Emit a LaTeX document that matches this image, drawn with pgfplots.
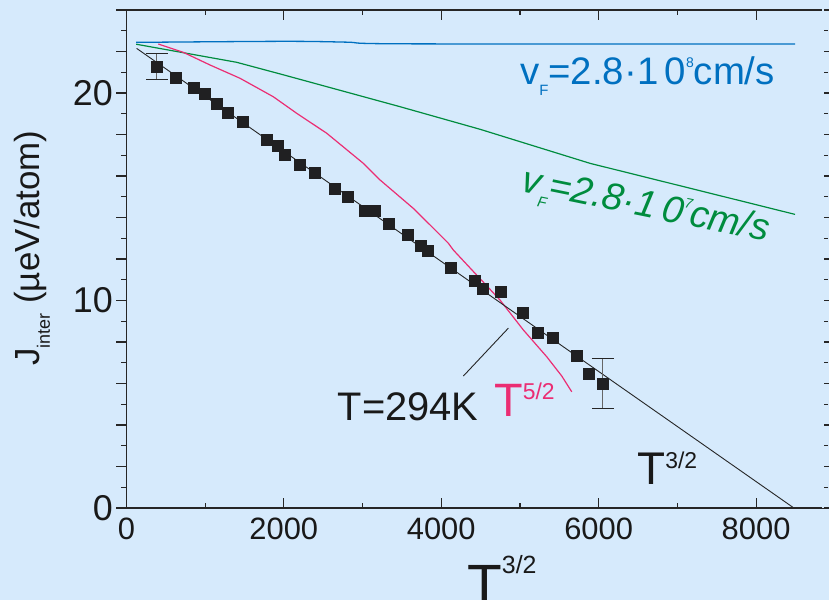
\documentclass[border=0pt]{standalone}
\usepackage{fontspec}
\setmainfont{Liberation Sans}
\usepackage{pgfplots}
\pgfplotsset{compat=1.18}
\definecolor{bgblue}{RGB}{214,234,252}
\definecolor{vblue}{RGB}{0,112,192}
\definecolor{vgreen}{RGB}{0,140,62}
\definecolor{tpink}{RGB}{235,45,115}
\definecolor{sqblack}{RGB}{32,32,34}
\begin{document}
\begin{tikzpicture}
\clip (0,0) rectangle (829bp,600bp);
\fill[bgblue] (0,0) rectangle (829bp,600bp);
\begin{axis}[at={(126.4bp,92bp)}, anchor=south west, scale only axis,
  width=696.6bp, height=498bp, clip=false,
  xmin=0, xmax=8850, ymin=0, ymax=24,
  xtick={0,2000,...,8000}, minor x tick num=1,
  ytick={0,2,...,24}, yticklabels={0,,,,,10,,,,,20,,}, minor y tick num=1,
  xtick align=inside, ytick align=outside,
  major tick length=10bp, minor tick length=5bp,
  axis line style={line width=1.3bp, black!85},
  every tick/.style={line width=1.2bp, black!85},
  x tick label style={font=\fontsize{31}{31}\selectfont, text=black!90, yshift=-6bp},
  y tick label style={font=\fontsize{36}{36}\selectfont, text=black!90},
  /pgf/number format/assume math mode=true,
  /pgf/number format/1000 sep={},
  ylabel={J\raisebox{-0.3em}{\fontsize{18}{18}\selectfont inter} (µeV/atom)},
  every axis y label/.style={at={(axis description cs:-0.1355,0.522)},
    rotate=90, anchor=center, font=\fontsize{35}{35}\selectfont, text=black!90}]

% v_F = 2.8e8
\addplot[vblue, line width=1.3bp, smooth] coordinates
  {(125,22.44) (2000,22.49) (2800,22.45) (3500,22.37) (8495,22.36)};
% v_F = 2.8e7
\addplot[vgreen, line width=1.2bp] coordinates
  {(125,22.35) (1400,21.48) (2000,20.87) (3476,19.34) (4494,18.25) (5890,16.61) (8495,14.15)};
% T^{5/2}
\addplot[tpink, line width=1.2bp] coordinates
  {(405,22.36) (723,21.96) (1062,21.35) (1443,20.71) (1866,19.82) (2164,19.02)
   (2545,18.06) (3010,16.61) (3222,15.81) (3645,14.44) (3858,13.64) (4090,12.76)
   (4154,12.43) (4747,10.02) (5043,8.58) (5340,7.29) (5531,6.36) (5658,5.6)};
% T^{3/2} fit
\addplot[black!85, line width=0.9bp] coordinates {(130,22.15) (8480,0)};
% annotation stroke
\addplot[black!85, line width=0.9bp] coordinates {(4281,6.36) (4853,8.67)};

% error bars
\addplot[forget plot, only marks, mark=none,
  error bars/.cd, y dir=both, y explicit,
  error bar style={line width=1.3bp, black!60},
  error mark options={rotate=90, mark size=11bp, line width=1.3bp, black!85}]
  coordinates {(385,21.27) +- (0,0.62) (6052,6.01) +- (0,1.2)};

% measured points
\addplot[only marks, mark=square*, mark size=5.5bp, sqblack] coordinates
  {(385,21.27) (630,20.76) (850,20.26) (990,19.97) (1142,19.5) (1291,19.07)
   (1482,18.62) (1783,17.77) (1926,17.46) (2006,17.01) (2197,16.55) (2392,16.18)
   (2651,15.37) (2807,15.0) (3023,14.31) (3150,14.31) (3328,13.72) (3574,13.16)
   (3740,12.63) (3828,12.39) (4124,11.6) (4430,10.94) (4527,10.55) (4760,10.44)
   (5040,9.41) (5230,8.43) (5421,8.23) (5726,7.36) (5869,6.46) (6052,6.01)};

% right frame line is not visible in the original, only its ticks
\draw[bgblue, line width=1.6bp] (rel axis cs:1,0) -- (rel axis cs:1,1.002);

\node[anchor=base west, inner sep=0, text=vblue, font=\fontsize{38.5}{38.5}\selectfont]
  at (axis cs:5001,20.43)
  {v\raisebox{-0.3em}{\fontsize{15}{15}\selectfont F}=2.8·1\,0\raisebox{0.44em}{\fontsize{14}{14}\selectfont 8}cm/s};
\node[anchor=base west, inner sep=0, text=vgreen, rotate=-11.5,
  font=\fontsize{38}{38}\selectfont\itshape]
  at (axis cs:5001,15.25)
  {v\raisebox{-0.3em}{\fontsize{15}{15}\selectfont F}=2.8·1\,0\raisebox{0.44em}{\fontsize{14}{14}\selectfont 7}cm/s};
\node[anchor=center, inner sep=0, text=black!90, font=\fontsize{40}{40}\selectfont]
  at (axis cs:3578,4.87) {T=294K};
\node[anchor=base west, inner sep=0, text=tpink, font=\fontsize{47}{47}\selectfont]
  at (axis cs:4671,4.39) {T\raisebox{17.5bp}{\fontsize{23}{23}\selectfont 5/2}};
\node[anchor=base west, inner sep=0, text=black!90, font=\fontsize{46}{46}\selectfont]
  at (axis cs:6488,1.11) {T\raisebox{16.5bp}{\fontsize{23}{23}\selectfont 3/2}};
\node[anchor=base west, inner sep=0, text=black!90, font=\fontsize{57}{57}\selectfont]
  at (axis description cs:0.489,-0.193) {T\raisebox{31bp}{\fontsize{25}{25}\selectfont 3/2}};
\end{axis}
\end{tikzpicture}
\end{document}
